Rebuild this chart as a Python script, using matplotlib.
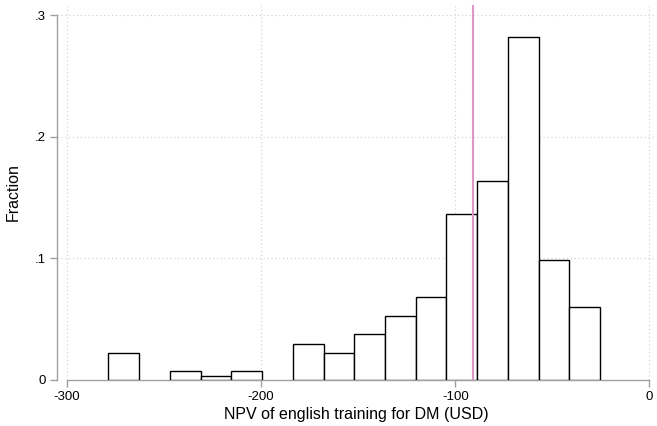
import matplotlib
matplotlib.use("Agg")
import matplotlib.pyplot as plt

# Histogram of NPV (USD): left bin edges, common bin width, fraction per bin
bin_start = -278.7
bin_width = 15.83
fractions = [0.0225, 0.0, 0.0072, 0.0032, 0.0072, 0.0, 0.0299, 0.0225,
             0.0376, 0.0529, 0.0683, 0.1369, 0.1635, 0.2823, 0.0988, 0.0603]
ref_value = -91.0

x_ticks = [-300, -200, -100, 0]
x_tick_labels = ["-300", "-200", "-100", "0"]
y_ticks = [0, 0.1, 0.2, 0.3]
y_tick_labels = ["0", ".1", ".2", ".3"]

plt.rcParams["font.family"] = ["Liberation Sans", "DejaVu Sans"]

fig = plt.figure(figsize=(6.57, 4.26), dpi=100)
ax = fig.add_axes([57 / 657, 46 / 426, 598 / 657, 375 / 426])

lefts = [bin_start + i * bin_width for i in range(len(fractions))]
for lx, h in zip(lefts, fractions):
    if h > 0:
        ax.bar(lx, h, width=bin_width, align="edge", facecolor="white",
               edgecolor="black", linewidth=1.0, zorder=3)

ax.axvline(ref_value, color="#dc98c2", linewidth=1.5, zorder=4)

ax.set_xlim(-305.2, 2.9)
ax.set_ylim(0, 0.3085)

grid_kw = dict(color="#cfcfcf", linewidth=0.8, linestyle=(0, (1, 2.5)), zorder=1)
for yv in y_ticks[1:]:
    ax.axhline(yv, **grid_kw)
for xv in x_ticks:
    ax.axvline(xv, **grid_kw)

for s in ["top", "right"]:
    ax.spines[s].set_visible(False)
ax.spines["left"].set_bounds(0, 0.3)
ax.spines["bottom"].set_bounds(-300, 0)
for s in ["left", "bottom"]:
    ax.spines[s].set_color("#a0a0a0")
    ax.spines[s].set_linewidth(1.0)
ax.spines["bottom"].set_zorder(2)

ax.set_xticks(x_ticks)
ax.set_xticklabels(x_tick_labels)
ax.set_yticks(y_ticks)
ax.set_yticklabels(y_tick_labels)
ax.tick_params(axis="both", color="#a0a0a0", length=5, width=1.0,
               labelsize=9.5, labelcolor="black", pad=3)

ax.set_xlabel("NPV of english training for DM (USD)", fontsize=11.5, labelpad=3)
ax.set_ylabel("Fraction", fontsize=11.5, labelpad=10)

fig.savefig("out.png", dpi=100)
